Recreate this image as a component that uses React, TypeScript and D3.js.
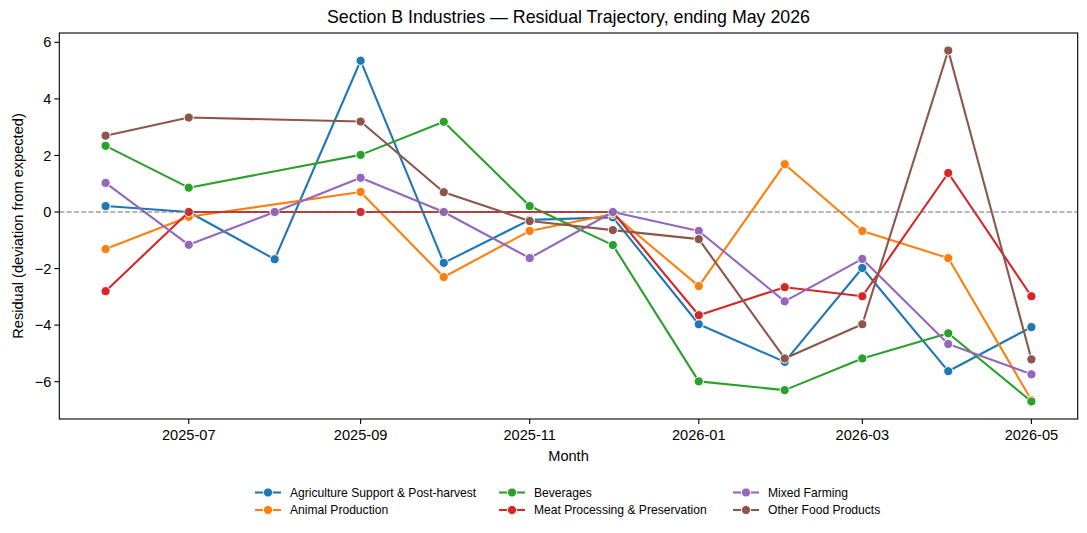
import { useMemo } from "react";
import { scaleUtc, scaleLinear, line, min, max } from "d3";

const months = [
  "2025-06", "2025-07", "2025-08", "2025-09", "2025-10", "2025-11",
  "2025-12", "2026-01", "2026-02", "2026-03", "2026-04", "2026-05",
];

const agriculture = [0.21, 0, -1.67, 5.35, -1.8, -0.28, -0.19, -3.97, -5.3, -1.98, -5.63, -4.07];
const animal = [-1.31, -0.17, null, 0.71, -2.3, -0.67, -0.07, -2.62, 1.69, -0.67, -1.63, -6.65];
const beverages = [2.34, 0.86, null, 2.02, 3.19, 0.21, -1.17, -5.99, -6.3, -5.18, -4.29, -6.7];
const meat = [-2.8, 0, 0, 0, 0, null, 0, -3.65, -2.66, -2.98, 1.38, -2.98];
const mixed = [1.03, -1.16, 0, 1.21, 0, -1.63, 0, -0.67, -3.16, -1.66, -4.67, -5.74];
const other = [2.7, 3.34, null, 3.2, 0.7, -0.32, -0.64, -0.96, -5.18, -3.97, 5.71, -5.21];

const seriesNames = [
  "Agriculture Support & Post-harvest",
  "Animal Production",
  "Beverages",
  "Meat Processing & Preservation",
  "Mixed Farming",
  "Other Food Products",
];
const seriesValues = [agriculture, animal, beverages, meat, mixed, other];
const colors = ["#1f77b4", "#ff7f0e", "#2ca02c", "#d62728", "#9467bd", "#8c564b"];

const yTicks = [-6, -4, -2, 0, 2, 4, 6];
const xTickLabels = ["2025-07", "2025-09", "2025-11", "2026-01", "2026-03", "2026-05"];

const W = 1087;
const H = 533;
const margin = { left: 59.3, right: 9.3, top: 33, bottom: 114 };
const FONT = "'Liberation Sans', Arial, Helvetica, sans-serif";

const parse = (s: string) => new Date(s + "-01T00:00:00Z");

export default function App() {
  const dates = months.map(parse);

  const { x, y } = useMemo(() => {
    const t0 = +dates[0];
    const t1 = +dates[dates.length - 1];
    const pad = (t1 - t0) * 0.05;
    const x = scaleUtc()
      .domain([new Date(t0 - pad), new Date(t1 + pad)])
      .range([margin.left, W - margin.right]);
    const all = seriesValues.flat().filter((v) => v != null) as number[];
    const lo = min(all) ?? 0;
    const hi = max(all) ?? 1;
    const p = (hi - lo) * 0.05;
    const y = scaleLinear()
      .domain([lo - p, hi + p])
      .range([H - margin.bottom, margin.top]);
    return { x, y };
  }, []);

  const lineFn = line<{ d: Date; v: number }>()
    .x((p) => x(p.d))
    .y((p) => y(p.v));

  const x0 = margin.left;
  const x1 = W - margin.right;
  const y0 = margin.top;
  const y1 = H - margin.bottom;
  const cx = (x0 + x1) / 2;

  const legendCols = [255, 499, 733];
  const legendRows = [492.5, 510];

  return (
    <svg
      width={W}
      height={H}
      style={{ position: "absolute", left: 0, top: 0, display: "block", background: "#fff" }}
      fontFamily={FONT}
    >
      <rect width={W} height={H} fill="#fff" />
      <text x={cx} y={23} textAnchor="middle" fontSize={17.8} fill="#000">
        Section B Industries — Residual Trajectory, ending May 2026
      </text>

      {seriesValues.map((vals, i) => {
        const pts = vals
          .map((v, j) => ({ d: dates[j], v: v as number }))
          .filter((p) => p.v != null);
        return (
          <g key={seriesNames[i]}>
            <path d={lineFn(pts) ?? ""} fill="none" stroke={colors[i]} strokeWidth={2.1} strokeLinejoin="round" strokeLinecap="round" />
            {pts.map((p, j) => (
              <circle key={j} cx={x(p.d)} cy={y(p.v)} r={4.6} fill={colors[i]} stroke="#fff" strokeWidth={1} />
            ))}
          </g>
        );
      })}

      <line x1={x0} x2={x1} y1={y(0)} y2={y(0)} stroke="#6e6e6e" strokeWidth={1.1} strokeDasharray="5.1,2.2" />

      <rect x={x0} y={y0} width={x1 - x0} height={y1 - y0} fill="none" stroke="#000" strokeWidth={1.1} />

      {yTicks.map((t) => (
        <g key={t} transform={`translate(0,${y(t)})`}>
          <line x1={x0 - 4.9} x2={x0} stroke="#000" strokeWidth={1.1} />
          <text x={x0 - 8} dy="0.35em" textAnchor="end" fontSize={14.6} fill="#000">
            {t < 0 ? `\u2212${Math.abs(t)}` : t}
          </text>
        </g>
      ))}

      {xTickLabels.map((lab) => {
        const px = x(parse(lab));
        return (
          <g key={lab} transform={`translate(${px},0)`}>
            <line y1={y1} y2={y1 + 4.9} stroke="#000" strokeWidth={1.1} />
            <text y={y1 + 21} textAnchor="middle" fontSize={14.6} fill="#000">
              {lab}
            </text>
          </g>
        );
      })}

      <text x={cx} y={461} textAnchor="middle" fontSize={14.6} fill="#000">
        Month
      </text>
      <text
        transform={`translate(22.5,${(y0 + y1) / 2}) rotate(-90)`}
        textAnchor="middle"
        fontSize={14.6}
        fill="#000"
      >
        Residual (deviation from expected)
      </text>

      {seriesNames.map((name, i) => {
        const col = Math.floor(i / 2);
        const row = i % 2;
        const lx = legendCols[col];
        const ly = legendRows[row];
        return (
          <g key={name} transform={`translate(${lx},${ly})`}>
            <line x1={0} x2={26} stroke={colors[i]} strokeWidth={2.1} />
            <circle cx={13} cy={0} r={4.6} fill={colors[i]} stroke="#fff" strokeWidth={1} />
            <text x={35} dy="0.35em" fontSize={12.1} fill="#000">
              {name}
            </text>
          </g>
        );
      })}
    </svg>
  );
}
